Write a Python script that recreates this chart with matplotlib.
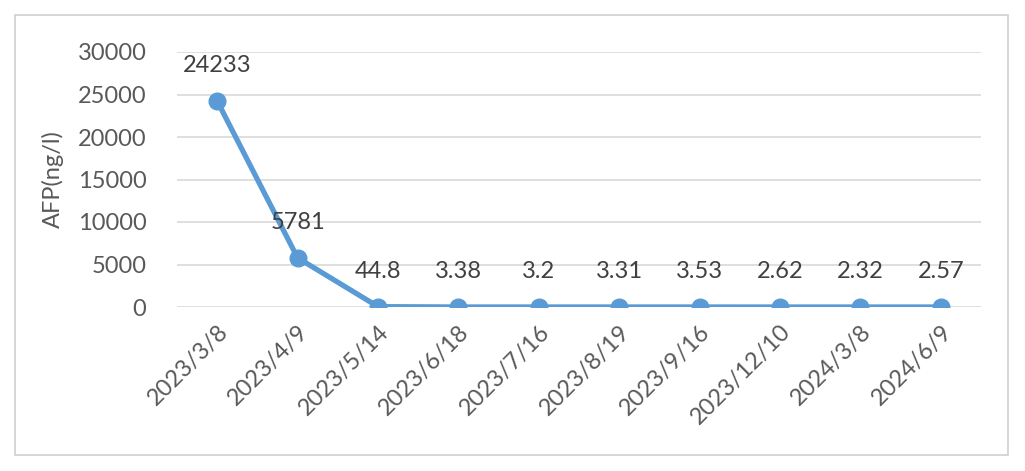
import matplotlib.pyplot as plt
from matplotlib.patches import Rectangle

# 검사 날짜와 AFP 수치
dates = ['2023/3/8', '2023/4/9', '2023/5/14', '2023/6/18', '2023/7/16',
         '2023/8/19', '2023/9/16', '2023/12/10', '2024/3/8', '2024/6/9']
afp = [24233, 5781, 44.8, 3.38, 3.2, 3.31, 3.53, 2.62, 2.32, 2.57]
labels = ['24233', '5781', '44.8', '3.38', '3.2', '3.31', '3.53', '2.62', '2.32', '2.57']
yticks = [0, 5000, 10000, 15000, 20000, 25000, 30000]

plt.rcParams['font.family'] = ['Lato', 'DejaVu Sans']
txt = '#595959'
fs = 17

fig = plt.figure(figsize=(10.25, 4.71), dpi=100)
ax = fig.add_axes([177/1025, 1-307/471, (981-177)/1025, (307-52)/471])

# 바깥 테두리
fig.patches.append(Rectangle((15/1025, 1-455/471), (1008-15)/1025, (455-15)/471,
                             transform=fig.transFigure, fill=False,
                             edgecolor='#D0D0D0', lw=1.2))

x = list(range(len(dates)))
ax.plot(x, afp, color='#5B9BD5', lw=3.8, marker='o', ms=12, zorder=3,
        solid_capstyle='round')

for xi, yi, lb in zip(x, afp, labels):
    ax.annotate(lb, (xi, yi), xytext=(0, 18), textcoords='offset points',
                ha='center', va='bottom', fontsize=fs, color='#404040')

ax.set_xlim(-0.5, len(dates) - 0.5)
ax.set_ylim(0, 30000)
ax.set_yticks(yticks)
ax.set_xticks(x)
ax.set_xticklabels(dates, rotation=45, ha='right', rotation_mode='anchor')
ax.tick_params(axis='both', length=0, labelsize=fs, colors=txt)
ax.tick_params(axis='x', pad=10)
ax.tick_params(axis='y', pad=22)

ax.grid(axis='y', color='#D9D9D9', lw=1.2)
ax.set_axisbelow(True)
for s in ax.spines.values():
    s.set_visible(False)

ax.set_ylabel('AFP(ng/l)', fontsize=fs, color=txt, labelpad=10)

fig.savefig('out.png', dpi=100)
